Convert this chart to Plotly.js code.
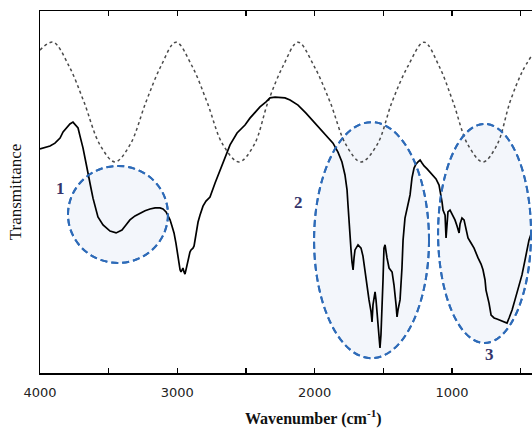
<!DOCTYPE html>
<html>
<head>
<meta charset="utf-8">
<script src="https://cdn.plot.ly/plotly-3.0.1.min.js"></script>
<style>html,body{margin:0;padding:0;background:#fff;}#chart{width:532px;height:434px;}</style>
</head>
<body>
<div id="chart"></div>
<script>
// Sample FTIR spectrum (solid line)
const sampleWavenumber = [
4000,3964,3927,3891,3854,3832,3803,3782,3760,3738,3723,3709,3687,3665,3650,3629,3614,3592,3578,3541,
3490,3446,3403,3374,3345,3308,3272,3235,3199,3162,3126,3104,3082,3068,3053,3039,3024,3010,3002,2995,
2988,2980,2973,2966,2959,2951,2944,2937,2922,2908,2900,2886,2878,2871,2864,2849,2835,2813,2791,2762,
2725,2674,2645,2616,2565,2507,2471,2434,2398,2354,2325,2288,2252,2216,2179,2121,2063,2012,1961,1910,
1866,1830,1801,1779,1764,1757,1750,1742,1735,1728,1720,1713,1706,1684,1662,1648,1633,1618,1604,1589,
1582,1575,1567,1560,1553,1546,1538,1531,1524,1517,1509,1502,1495,1487,1473,1458,1436,1422,1407,1400,
1393,1378,1364,1356,1342,1327,1320,1313,1305,1298,1291,1276,1262,1247,1232,1218,1203,1181,1160,1138,
1116,1094,1079,1072,1065,1058,1050,1043,1036,1029,1014,999,978,963,948,941,927,912,897,883,
861,839,810,788,774,759,752,737,730,715,693,672,635,599,584,562,541,526,504,490,
468,453,439,424,417
];
const sampleTransmittance = [
61.9,62.2,62.7,63.5,64.9,66.6,68.0,68.8,69.3,68.5,67.7,65.5,62.2,58.0,54.7,51.1,48.3,45.0,43.1,40.9,
39.2,38.7,39.5,40.9,42.3,43.4,44.2,44.8,45.3,45.6,45.6,45.3,44.5,43.6,42.3,40.6,38.7,35.9,34.0,31.8,
29.8,28.5,27.9,28.5,29.0,27.9,27.3,28.5,31.2,33.4,34.0,34.5,35.1,36.7,39.0,41.7,43.6,46.1,47.5,48.6,
52.5,57.5,60.5,63.0,66.3,68.5,70.4,72.1,73.5,74.9,76.0,76.2,76.2,76.0,75.4,74.0,71.8,69.6,67.7,65.5,
63.5,61.0,58.3,54.7,50.6,46.4,41.7,38.1,34.0,30.7,28.5,31.8,34.0,35.4,34.5,32.3,27.9,22.9,20.2,16.9,
14.1,18.8,20.7,22.4,20.2,17.4,14.1,11.3,6.9,10.5,17.4,25.7,34.5,35.4,31.8,29.0,27.9,24.3,18.8,15.5,
17.4,20.2,29.0,36.7,42.8,45.9,46.4,47.8,49.2,51.9,53.9,56.6,57.7,58.3,58.8,58.0,57.2,56.4,55.5,54.7,
53.6,51.9,49.2,47.2,45.0,44.2,43.6,37.3,40.9,44.5,45.0,43.9,42.3,40.6,38.7,41.2,42.8,42.3,40.1,37.3,
35.9,34.5,31.8,30.1,28.5,25.7,22.9,20.7,19.3,16.0,15.2,14.9,14.4,13.8,15.2,17.4,20.2,22.1,24.9,27.1,
31.2,34.5,36.7,38.4,39.5
];
// Reference curve (dotted line)
const refWavenumber = [4000,3905,3789,3680,3563,3454,3345,3228,3119,3010,2893,2784,2667,2551,2441,2339,2230,2121,2004,1888,1771,1662,1546,1436,1320,1203,1094,992,883,774,672,577,490,417];
const refTransmittance = [89.2,91.4,84.8,74.9,63.0,58.3,63.0,74.9,84.8,91.4,84.8,74.9,63.0,58.3,63.0,74.9,84.8,91.4,84.8,74.9,63.0,58.3,63.0,74.9,84.8,91.4,84.8,74.9,63.0,58.3,63.0,74.9,83.1,87.8];
// Axis ticks
const majorTickValues = [4000,3000,2000,1000];
const majorTickLabels = ['4000','3000','2000','1000'];
const minorTickValues = [3500,2500,1500,500];
// Region labels
const regionLabels = ['1','2','3'];
const regionLabelX = [3854,2114,723];
const regionLabelY = [51.1,47.0,5.0];

const traces = [
  {x: refWavenumber, y: refTransmittance, mode:'lines', line:{color:'#4a4a4a', width:1.5, dash:'3px,3px', shape:'spline', smoothing:1}, hoverinfo:'skip'},
  {x: sampleWavenumber, y: sampleTransmittance, mode:'lines', line:{color:'#000', width:1.7}, hoverinfo:'skip'}
];

const ellStyle = {type:'circle', xref:'x', yref:'y', layer:'below', fillcolor:'#f3f6fb', line:{color:'#2e6bb8', width:2, dash:'7px,4px'}};
const shapes = [
  Object.assign({}, ellStyle, {x0:3796, x1:3068, y0:30.4, y1:57.2}),
  Object.assign({}, ellStyle, {x0:2004, x1:1167, y0:4.1, y1:69.3}),
  Object.assign({}, ellStyle, {x0:1101, x1:424, y0:8.3, y1:68.8})
];
const ellOutline = shapes.map(s => Object.assign({}, s, {layer:'above', fillcolor:'rgba(0,0,0,0)'}));

const annotations = regionLabels.map((t,i) => ({
  x: regionLabelX[i], y: regionLabelY[i], xref:'x', yref:'y', text: t, showarrow:false,
  font:{family:'Liberation Serif', size:17, color:'#35356b', weight:'bold'}
}));
annotations.push({
  text:'Wavenumber (cm<sup>-1</sup>)', xref:'paper', yref:'paper', x:0.555, y:-0.124,
  xanchor:'center', yanchor:'middle', showarrow:false,
  font:{family:'Liberation Serif', size:16, color:'#111', weight:'bold'}
});

const layout = {
  width:532, height:434,
  margin:{l:40, r:0, t:11, b:61, pad:0},
  paper_bgcolor:'#fff', plot_bgcolor:'#fff',
  showlegend:false,
  xaxis:{
    range:[4000,417], tickmode:'array', tickvals:majorTickValues, ticktext:majorTickLabels,
    ticks:'inside', ticklen:5, tickwidth:1.5, tickcolor:'#000', ticklabelstandoff:7,
    minor:{tickmode:'array', tickvals:minorTickValues, ticks:'inside', ticklen:5, tickwidth:1.5, tickcolor:'#000', showgrid:false},
    showline:true, linewidth:1.5, linecolor:'#000', mirror:'ticks',
    showgrid:false, zeroline:false,
    tickfont:{family:'DejaVu Sans', size:13, color:'#222'}
  },
  yaxis:{
    range:[0,100], showline:true, linewidth:1.5, linecolor:'#000',
    ticks:'', showticklabels:false, showgrid:false, zeroline:false,
    title:{text:'Transmittance', font:{family:'Liberation Serif', size:17, color:'#111'}, standoff:12}
  },
  shapes: shapes.concat(ellOutline),
  annotations: annotations
};

Plotly.newPlot('chart', traces, layout, {displayModeBar:false, staticPlot:true});
</script>
</body>
</html>
